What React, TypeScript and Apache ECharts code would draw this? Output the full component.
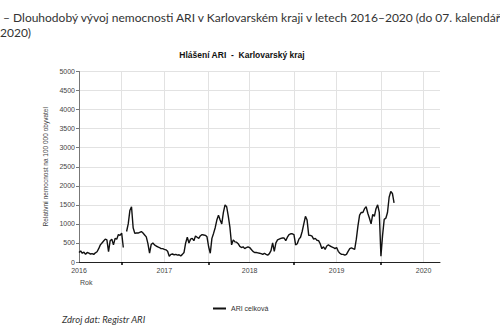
import React, { useEffect, useRef } from "react";
import * as echarts from "echarts";

// Weekly values of ARI (relative incidence per 100 000 inhabitants), starting at the 2016 label
const ariWeekly: (number | null)[] = [
  250, 290, 230, 260, 200, 250, 230, 210, 220, 200, 240, 270, 350, 450, 500, 550, 600, 580, 270, 560,
  600, 450, 620, 600, 720, 700, 760, 380, null, 800, 1000, 1350, 1450, 900, 750, 760, 760, 780, 800, 760,
  710, 660, 480, 230, 460, 500, 450, 420, 400, 380, 350, 350, 330, 320, 280, 150, 200, 210, 190, 200,
  180, 190, 160, 200, 250, 500, 650, 500, 600, 620, 560, 680, 650, 620, 690, 720, 710, 700, 660, 400,
  230, 620, 750, 900, 1100, 1230, 1100, 1000, 1300, 1500, 1450, 1200, 900, 450, 580, 530, 520, 480, 410, 380,
  400, 350, 380, 400, 380, 330, 280, 250, 250, 240, 230, 220, 200, 230, 200, 180, 220, 300, 500, 280,
  500, 580, 600, 620, 630, 630, 560, 650, 720, 740, 740, 720, 450, 480, 600, 650, 800, 1000, 1200, 1100,
  700, 700, 680, 600, 620, 570, 560, 480, 350, 400, 330, 420, 450, 420, 400, 380, 350, 380, 280, 230,
  200, 200, 180, 200, 280, 350, 370, 350, 330, 600, 950, 1230, 1300, 1300, 1400, 1450, 1280, 1150, 1000, 1250,
  1200, 1400, 1500, 1300, 150, 700, 1120, 1150, 1300, 1700, 1850, 1800, 1550,
];

// x-axis positions (weeks) of the year labels and the half-year marks
const yearWeeks = [0, 52, 104, 157, 210];
const yearLabels = ["2016", "2017", "2018", "2019", "2020"];
const halfYearWeeks = [26, 79, 131, 184];

const titleLine1 =
  "– Dlouhodobý vývoj nemocnosti ARI v Karlovarském kraji v letech 2016–2020 (do 07. kalendář";
const titleLine2 = "2020)";
const chartTitle = "Hlášení ARI  -  Karlovarský kraj";
const yAxisName = "Relativní nemocnost na 100 000 obyvatel";
const xAxisName = "Rok";
const seriesName = "ARI celková";
const sourceNote = "Zdroj dat: Registr ARI";

export default function App() {
  const ref = useRef<HTMLDivElement>(null);
  useEffect(() => {
    if (!ref.current) return;
    const chart = echarts.init(ref.current, null, { renderer: "svg" });
    const gridWeeks = [...yearWeeks, ...halfYearWeeks].sort((a, b) => a - b);
    chart.setOption({
      animation: false,
      backgroundColor: "#fff",
      title: {
        text: chartTitle,
        left: 237,
        textAlign: "center",
        top: 45,
        textStyle: { fontFamily: "Liberation Sans", fontSize: 8.5, fontWeight: "bold", color: "#111" },
      },
      grid: { left: 79, right: 60, top: 71.5, bottom: 72, containLabel: false },
      legend: {
        left: 208,
        top: 300,
        itemWidth: 13,
        itemHeight: 2,
        icon: "rect",
        textStyle: { fontFamily: "Liberation Sans", fontSize: 7, color: "#333" },
        data: [seriesName],
      },
      xAxis: [
        {
          type: "value",
          min: 0,
          max: 220,
          position: "bottom",
          axisLine: { show: true, lineStyle: { color: "#222", width: 1 } },
          axisTick: { show: false, customValues: gridWeeks },
          splitLine: { show: true, lineStyle: { color: "#e2e2e2", width: 1 } },
          axisLabel: {
            customValues: yearWeeks,
            formatter: (v: number) => yearLabels[yearWeeks.indexOf(Math.round(v))] ?? "",
            fontFamily: "Liberation Sans",
            fontSize: 7,
            color: "#444",
            margin: 5,
          },
        },
        {
          type: "value",
          min: 0,
          max: 220,
          position: "bottom",
          axisLine: { show: false },
          axisTick: { show: true, customValues: halfYearWeeks, length: 3, lineStyle: { color: "#000", width: 1.5 } },
          splitLine: { show: false },
          axisLabel: { show: false },
        },
      ],
      yAxis: {
        type: "value",
        min: 0,
        max: 5000,
        interval: 500,
        name: yAxisName,
        nameLocation: "middle",
        nameGap: 28,
        nameTextStyle: { fontFamily: "Liberation Sans", fontSize: 6.5, color: "#444" },
        axisLine: { show: true, lineStyle: { color: "#777" } },
        axisTick: { show: true, length: 3, lineStyle: { color: "#777" } },
        splitLine: { show: true, lineStyle: { color: "#e2e2e2" } },
        axisLabel: {
          fontFamily: "Liberation Sans",
          fontSize: 7,
          color: "#444",
          margin: 4,
          formatter: (v: number) => String(v),
        },
      },
      series: [
        {
          name: seriesName,
          type: "line",
          xAxisIndex: 0,
          data: ariWeekly.map((v, i) => [i, v === null ? "-" : v]),
          showSymbol: false,
          connectNulls: false,
          lineStyle: { color: "#111", width: 1.4 },
          itemStyle: { color: "#111" },
        },
      ],
      graphic: [
        {
          type: "text",
          left: 3,
          top: 11,
          style: { text: titleLine1, font: "12px Lato", fill: "#333" },
        },
        {
          type: "text",
          left: 0,
          top: 26,
          style: { text: titleLine2, font: "12px Lato", fill: "#333" },
        },
        {
          type: "text",
          left: 80,
          top: 279,
          style: { text: xAxisName, font: "7px 'Liberation Sans'", fill: "#444" },
        },
        {
          type: "text",
          left: 62,
          top: 314,
          style: { text: sourceNote, font: "italic 9.5px Lato", fill: "#333" },
        },
      ],
    });
    return () => chart.dispose();
  }, []);
  return (
    <div
      ref={ref}
      style={{ position: "absolute", left: 0, top: 0, width: 500, height: 334 }}
    />
  );
}
